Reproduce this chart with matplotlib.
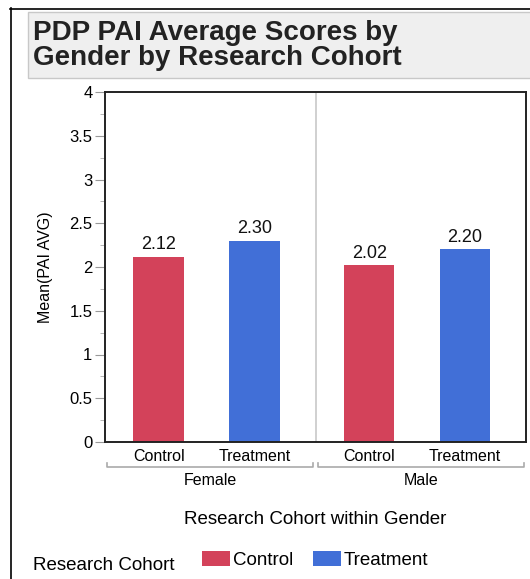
import matplotlib.pyplot as plt
from matplotlib.patches import Patch, Rectangle
from matplotlib.lines import Line2D
from matplotlib.ticker import MultipleLocator

plt.rcParams['font.family'] = ['Liberation Sans', 'DejaVu Sans']

# Data
genders = ['Female', 'Male']
cohorts = ['Control', 'Treatment']
control_means = [2.12, 2.02]
treatment_means = [2.30, 2.20]
cohort_colors = {'Control': '#D3425A', 'Treatment': '#416FD7'}

W, H = 530, 579
fig = plt.figure(figsize=(W / 100, H / 100), dpi=100)


def fx(px):
    return px / W


def fy(py):
    return 1 - py / H


# outer frame (left and top edges only visible)
fig.add_artist(Line2D([fx(10.5), fx(10.5)], [fy(8), fy(579)], color='black', lw=1.2))
fig.add_artist(Line2D([fx(10), fx(530)], [fy(8.5), fy(8.5)], color='black', lw=1.2))

# title box
fig.add_artist(Rectangle((fx(28), fy(78)), fx(540) - fx(28), fy(12) - fy(78),
                         facecolor='#EFEFEF', edgecolor='#C8C8C8', lw=1))
fig.text(fx(33), fy(45.5), 'PDP PAI Average Scores by\nGender by Research Cohort',
         fontsize=20, fontweight='bold', color='#222222', va='center', ha='left',
         linespacing=0.97)

ax = fig.add_axes([fx(105), fy(442), fx(526) - fx(105), fy(92) - fy(442)])

bar_w = 0.48
offsets = [0.51, 1.42]
positions = []
labels = []
for g, gender in enumerate(genders):
    vals = [control_means[g], treatment_means[g]]
    for c, cohort in enumerate(cohorts):
        x = 2 * g + offsets[c]
        ax.bar(x, vals[c], width=bar_w, color=cohort_colors[cohort], zorder=2)
        ax.text(x, vals[c] + 0.04, f'{vals[c]:.2f}', ha='center', va='bottom',
                fontsize=13, color='#111111')
        positions.append(x)
        labels.append(cohort)

ax.axvline(2, color='#C8C8C8', lw=1.2, zorder=1)
ax.set_xlim(0, 4)
ax.set_ylim(0, 4)
ax.yaxis.set_minor_locator(MultipleLocator(0.25))
ax.set_yticks([0, 0.5, 1, 1.5, 2, 2.5, 3, 3.5, 4])
ax.set_yticklabels(['0', '0.5', '1', '1.5', '2', '2.5', '3', '3.5', '4'])
ax.tick_params(axis='y', which='major', length=7, color='#999999', labelsize=12, pad=2)
ax.tick_params(axis='y', which='minor', length=3.5, color='#AAAAAA')
ax.set_xticks(positions)
ax.set_xticklabels(labels)
ax.tick_params(axis='x', length=0, labelsize=11.5, pad=5)
for s in ax.spines.values():
    s.set_color('#222222')
    s.set_linewidth(1.4)
ax.set_ylabel('Mean(PAI AVG)', fontsize=11.5, labelpad=12)

# group brackets and labels under the axis
trans = ax.get_xaxis_transform()
by = -0.072
hook = 0.012
for g, gender in enumerate(genders):
    x0, x1 = 2 * g + 0.02, 2 * g + 1.98
    ax.plot([x0, x0, x1, x1], [by + hook, by, by, by + hook], transform=trans,
            color='#AAAAAA', lw=1.2, clip_on=False)
    ax.text(2 * g + 1, -0.11, gender, transform=trans, ha='center', va='center',
            fontsize=11.5)

ax.text(2, -0.22, 'Research Cohort within Gender', transform=trans, ha='center',
        va='center', fontsize=13.5)

# legend
fig.text(fx(33), fy(565), 'Research Cohort', fontsize=13.5, ha='left', va='center')
handles = [Patch(facecolor=cohort_colors[c], edgecolor='none') for c in cohorts]
fig.legend(handles, cohorts, loc='center left', bbox_to_anchor=(fx(202), fy(560)),
           ncol=2, frameon=False, fontsize=13.5, borderpad=0, borderaxespad=0,
           handlelength=1.47, handleheight=0.84, handletextpad=0.16,
           columnspacing=1.1)

fig.savefig('out.png', dpi=100)
